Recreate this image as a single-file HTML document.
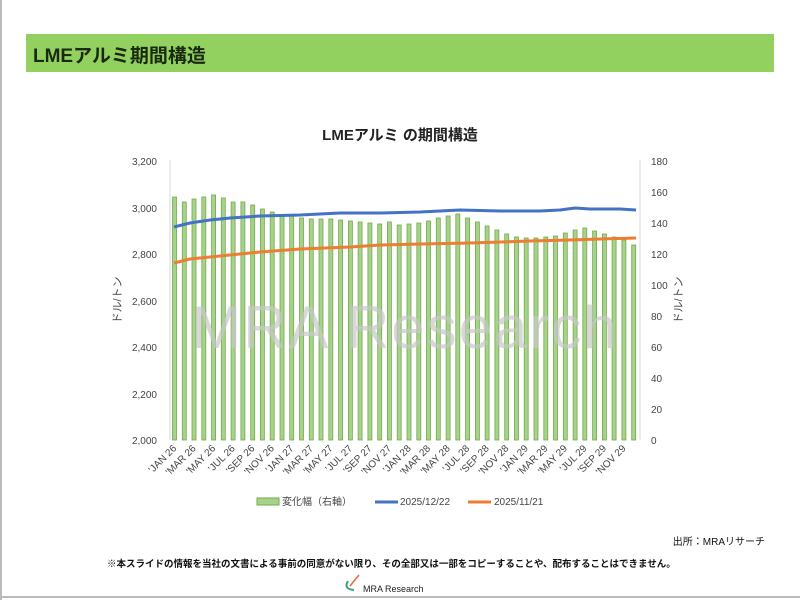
<!DOCTYPE html>
<html><head><meta charset="utf-8"><style>
body{margin:0;background:#fff;}
svg text{font-family:"Liberation Sans","Noto Sans CJK JP",sans-serif;}
</style></head><body>
<svg id="s" width="800" height="600" xmlns="http://www.w3.org/2000/svg">
<rect x="0" y="0" width="800" height="600" fill="#fff"/>
<rect x="0" y="0" width="2" height="600" fill="#bbb"/>
<rect x="0" y="596" width="800" height="2" fill="#bbb"/>
<rect x="26" y="34" width="748" height="38" fill="#92d05f"/>
<text x="33" y="62" font-size="19" font-weight="bold" fill="#1a2a10">LMEアルミ期間構造</text>
<text x="400" y="140" font-size="15" font-weight="bold" text-anchor="middle" fill="#222">LMEアルミ の期間構造</text>
<g id="bars"></g>
<g font-size="10" fill="#444" text-anchor="end" id="ly">
<text x="157" y="165">3,200</text><text x="157" y="212">3,000</text><text x="157" y="258">2,800</text><text x="157" y="305">2,600</text><text x="157" y="351">2,400</text><text x="157" y="398">2,200</text><text x="157" y="444">2,000</text>
</g>
<g font-size="10" fill="#444" text-anchor="start">
<text x="651" y="165">180</text><text x="651" y="196">160</text><text x="651" y="227">140</text><text x="651" y="258">120</text><text x="651" y="289">100</text><text x="651" y="320">80</text><text x="651" y="351">60</text><text x="651" y="382">40</text><text x="651" y="413">20</text><text x="651" y="444">0</text>
</g>
<line x1="170" y1="160" x2="170" y2="440" stroke="#d9d9d9"/>
<line x1="640" y1="160" x2="640" y2="440" stroke="#d9d9d9"/>
<text transform="translate(121,300) rotate(-90)" font-size="11" fill="#444" text-anchor="middle">ドル/トン</text>
<text transform="translate(682,300) rotate(-90)" font-size="11" fill="#444" text-anchor="middle">ドル/トン</text>
<text x="405" y="348" font-size="60" fill="#c8c8c8" fill-opacity="0.7" text-anchor="middle" letter-spacing="2">MRA Research</text>
<g id="xl" font-size="10" fill="#444"></g>
<rect x="257" y="498" width="22" height="7" fill="#a9d18e" stroke="#70ad47" stroke-width="1"/>
<text x="282" y="505" font-size="10" fill="#444">変化幅（右軸）</text>
<line x1="375" y1="502" x2="398" y2="502" stroke="#4472c4" stroke-width="3"/>
<text x="400" y="505" font-size="10" fill="#444">2025/12/22</text>
<line x1="468" y1="502" x2="491" y2="502" stroke="#ed7d31" stroke-width="3"/>
<text x="494" y="505" font-size="10" fill="#444">2025/11/21</text>
<text x="765" y="545" font-size="10" fill="#111" text-anchor="end">出所：MRAリサーチ</text>
<text x="107" y="567" font-size="9.5" font-weight="bold" fill="#111">※本スライドの情報を当社の文書による事前の同意がない限り、その全部又は一部をコピーすることや、配布することはできません。</text>
<path d="M348 581 q-5 8 6 9" stroke="#3aa17a" stroke-width="2" fill="none"/>
<line x1="350" y1="586" x2="359" y2="575" stroke="#e07030" stroke-width="1.5"/>
<text x="363" y="592" font-size="9" fill="#222">MRA Research</text>
</svg>
<script>
var tops=[197,202,199,197,195,198,202,202,205,209,212,216,216,218,219,219,219,220,221,222,223,224,222,225,224,223,221,218,216,214,218,222,226,230,234,237,238,238,237,236,233,230,228,231,234,237,240,245];
var ns="http://www.w3.org/2000/svg",g=document.getElementById('bars'),h='';
for(var i=0;i<48;i++){var x=172.5+9.77*i;h+='<rect x="'+x.toFixed(1)+'" y="'+tops[i]+'" width="4" height="'+(440-tops[i])+'" fill="#a9d18e" stroke="#70ad47" stroke-width="0.8"/>';}
function pl(pts,c){var s='';for(var j=0;j<pts.length;j++)s+=pts[j][0]+','+pts[j][1]+' ';return '<polyline points="'+s+'" fill="none" stroke="'+c+'" stroke-width="3" stroke-linejoin="round"/>';}
h+=pl([[174,227],[190,223],[210,220],[230,218],[260,216],[300,215],[340,213],[380,213],[420,212],[460,210],[500,211],[540,211],[560,210],[575,208],[590,209],[620,209],[636,210]],'#4472c4');
h+=pl([[174,263],[190,259],[210,257],[230,255],[260,252],[300,249],[350,247],[380,245],[420,244],[470,243],[530,241],[570,240],[600,239],[636,238]],'#ed7d31');
g.innerHTML=h;
var m=['JAN','MAR','MAY','JUL','SEP','NOV'],xl='';
for(var k=0;k<24;k++){var x=177+9.77*2*k;var lab="'"+m[k%6]+' '+(26+Math.floor(k/6));xl+='<text transform="translate('+x.toFixed(1)+',449) rotate(-45)" text-anchor="end">'+lab+'</text>';}
document.getElementById('xl').innerHTML=xl;
</script>
</body></html>
